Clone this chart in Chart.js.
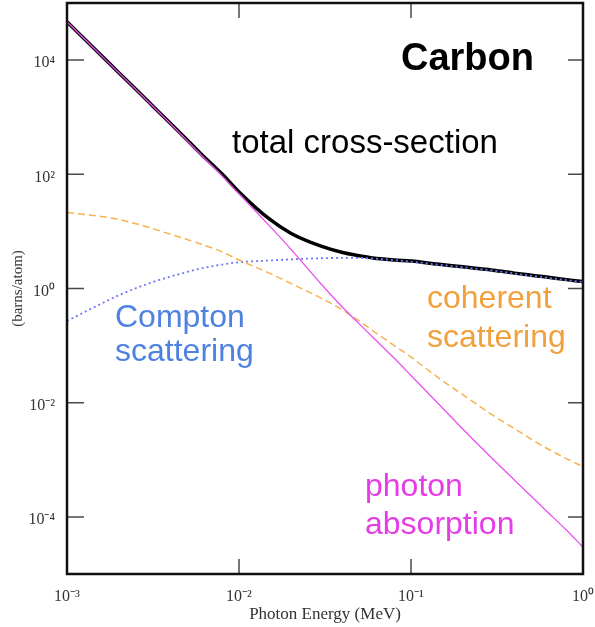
<!DOCTYPE html>
<html>
<head>
<meta charset="utf-8">
<script src="https://cdn.jsdelivr.net/npm/chart.js@4.4.1/dist/chart.umd.min.js"></script>
<style>
  body { margin: 0; background: #fff; }
</style>
</head>
<body>
<canvas id="chart" width="595" height="627"></canvas>
<script>
// photon energy (MeV) and cross-sections (barns/atom) for carbon
const energies = [0.001, 0.0015, 0.002, 0.003, 0.004, 0.005, 0.006, 0.008, 0.01, 0.015, 0.02, 0.03, 0.04, 0.05, 0.06, 0.08, 0.1, 0.15, 0.2, 0.3, 0.4, 0.5, 0.6, 0.8, 1.0];
const total = [46800, 14100, 6030, 1820, 776, 398, 229, 100, 49, 16.5, 9.3, 5.5, 4.27, 3.76, 3.43, 3.16, 3.02, 2.63, 2.40, 2.09, 1.86, 1.71, 1.60, 1.43, 1.32];
const photoAbsorption = [46800, 14100, 6020, 1810, 766, 388, 220, 93, 45.7, 12.6, 4.9, 1.2, 0.47, 0.24, 0.14, 0.06, 0.030, 0.0085, 0.00347, 1.02e-3, 4.4e-4, 2.3e-4, 1.35e-4, 5.9e-5, 2.95e-5];
const coherent = [21.4, 18.6, 16.2, 11.7, 8.9, 7.2, 6.0, 4.37, 3.16, 1.86, 1.23, 0.68, 0.42, 0.27, 0.182, 0.10, 0.063, 0.025, 0.0138, 0.0060, 0.0035, 0.0023, 0.00166, 0.00105, 0.00076];
const compton = [0.27, 0.50, 0.76, 1.23, 1.62, 1.95, 2.24, 2.63, 2.88, 3.09, 3.24, 3.39, 3.43, 3.43, 3.35, 3.13, 2.95, 2.58, 2.36, 2.06, 1.83, 1.67, 1.56, 1.40, 1.30];

const xTickValues = [0.001, 0.01, 0.1, 1];
const xTickLabels = ['10⁻³', '10⁻²', '10⁻¹', '10⁰'];
const yTickValues = [1e-4, 1e-2, 1, 1e2, 1e4];
const yTickLabels = ['10⁻⁴', '10⁻²', '10⁰', '10²', '10⁴'];

const pts = arr => energies.map((e, i) => ({ x: e, y: arr[i] }));

const sans = '"Liberation Sans", Arial, sans-serif';
const serif = '"Liberation Serif", "Times New Roman", serif';

// text written on the plot
const notes = [
  { lines: ['Carbon'], color: '#000', x: 401, y: 70, font: 'bold 38px ' + sans, gap: 0 },
  { lines: ['total cross-section'], color: '#000', x: 232, y: 153, font: '33px ' + sans, gap: 0 },
  { lines: ['Compton', 'scattering'], color: 'rgb(78,130,225)', x: 115, y: 327, font: '32px ' + sans, gap: 34 },
  { lines: ['coherent', 'scattering'], color: 'rgb(240,160,60)', x: 427, y: 308, font: '32px ' + sans, gap: 39 },
  { lines: ['photon', 'absorption'], color: 'rgb(230,60,232)', x: 365, y: 496, font: '32px ' + sans, gap: 38 }
];

const framePlugin = {
  id: 'framePlugin',
  afterDraw(chart) {
    const { ctx, chartArea: a, scales: { x, y } } = chart;
    ctx.save();
    // tick marks point into the plot, on all four sides
    ctx.strokeStyle = '#4a4a4a';
    ctx.lineWidth = 1.5;
    ctx.beginPath();
    xTickValues.forEach(v => {
      const px = x.getPixelForValue(v);
      ctx.moveTo(px, a.bottom); ctx.lineTo(px, a.bottom - 15);
      ctx.moveTo(px, a.top); ctx.lineTo(px, a.top + 15);
    });
    yTickValues.forEach(v => {
      const py = y.getPixelForValue(v);
      ctx.moveTo(a.left, py); ctx.lineTo(a.left + 17, py);
      ctx.moveTo(a.right, py); ctx.lineTo(a.right - 15, py);
    });
    ctx.stroke();

    ctx.strokeStyle = '#111';
    ctx.lineWidth = 2.5;
    ctx.strokeRect(a.left, a.top, a.right - a.left, a.bottom - a.top);

    ctx.textBaseline = 'alphabetic';
    ctx.textAlign = 'left';
    notes.forEach(n => {
      ctx.font = n.font;
      ctx.fillStyle = n.color;
      n.lines.forEach((t, i) => ctx.fillText(t, n.x, n.y + i * n.gap));
    });
    ctx.restore();
  }
};

const ctx = document.getElementById('chart').getContext('2d');
const myChart = new Chart(ctx, {
  type: 'line',
  data: {
    datasets: [
      {
        label: 'photon absorption',
        data: pts(photoAbsorption),
        borderColor: 'rgb(232,80,240)',
        borderWidth: 1.3,
        order: 1
      },
      {
        label: 'coherent scattering',
        data: pts(coherent),
        borderColor: 'rgb(246,178,80)',
        borderWidth: 1.5,
        borderDash: [7, 4],
        order: 1
      },
      {
        label: 'Compton scattering',
        data: pts(compton),
        borderColor: 'rgb(110,120,245)',
        borderWidth: 1.8,
        borderDash: [2, 3],
        order: 1
      },
      {
        label: 'total cross-section',
        data: pts(total),
        borderColor: '#000',
        borderWidth: 3.5,
        order: 2
      }
    ]
  },
  options: {
    responsive: false,
    animation: false,
    layout: { padding: { top: 3, right: 12, left: 0, bottom: 0 } },
    elements: {
      point: { radius: 0 },
      line: { cubicInterpolationMode: 'monotone', fill: false }
    },
    plugins: {
      legend: { display: false },
      tooltip: { enabled: false }
    },
    scales: {
      x: {
        type: 'logarithmic',
        min: 0.001,
        max: 1,
        afterBuildTicks: s => { s.ticks = xTickValues.map(v => ({ value: v })); },
        afterFit: s => { s.height = 53; s.paddingLeft = 0; s.paddingRight = 0; },
        grid: { display: false, drawTicks: false },
        border: { display: false },
        ticks: {
          padding: 13,
          color: '#333',
          font: { family: serif, size: 16 },
          maxRotation: 0,
          callback: (v, i) => xTickLabels[i]
        },
        title: {
          display: true,
          text: 'Photon Energy (MeV)',
          color: '#333',
          font: { family: serif, size: 17 },
          padding: { top: 0, bottom: 2 }
        }
      },
      y: {
        type: 'logarithmic',
        min: 1e-5,
        max: 1e5,
        afterBuildTicks: s => { s.ticks = yTickValues.map(v => ({ value: v })); },
        afterFit: s => { s.width = 67; s.paddingTop = 0; s.paddingBottom = 0; },
        grid: { display: false, drawTicks: false },
        border: { display: false },
        ticks: {
          padding: 12,
          labelOffset: 3,
          color: '#333',
          font: { family: serif, size: 16 },
          callback: (v, i) => yTickLabels[i]
        },
        title: {
          display: true,
          text: '(barns/atom)',
          color: '#333',
          font: { family: serif, size: 15 },
          padding: { top: 9, bottom: 0 }
        }
      }
    }
  },
  plugins: [framePlugin]
});
</script>
</body>
</html>
